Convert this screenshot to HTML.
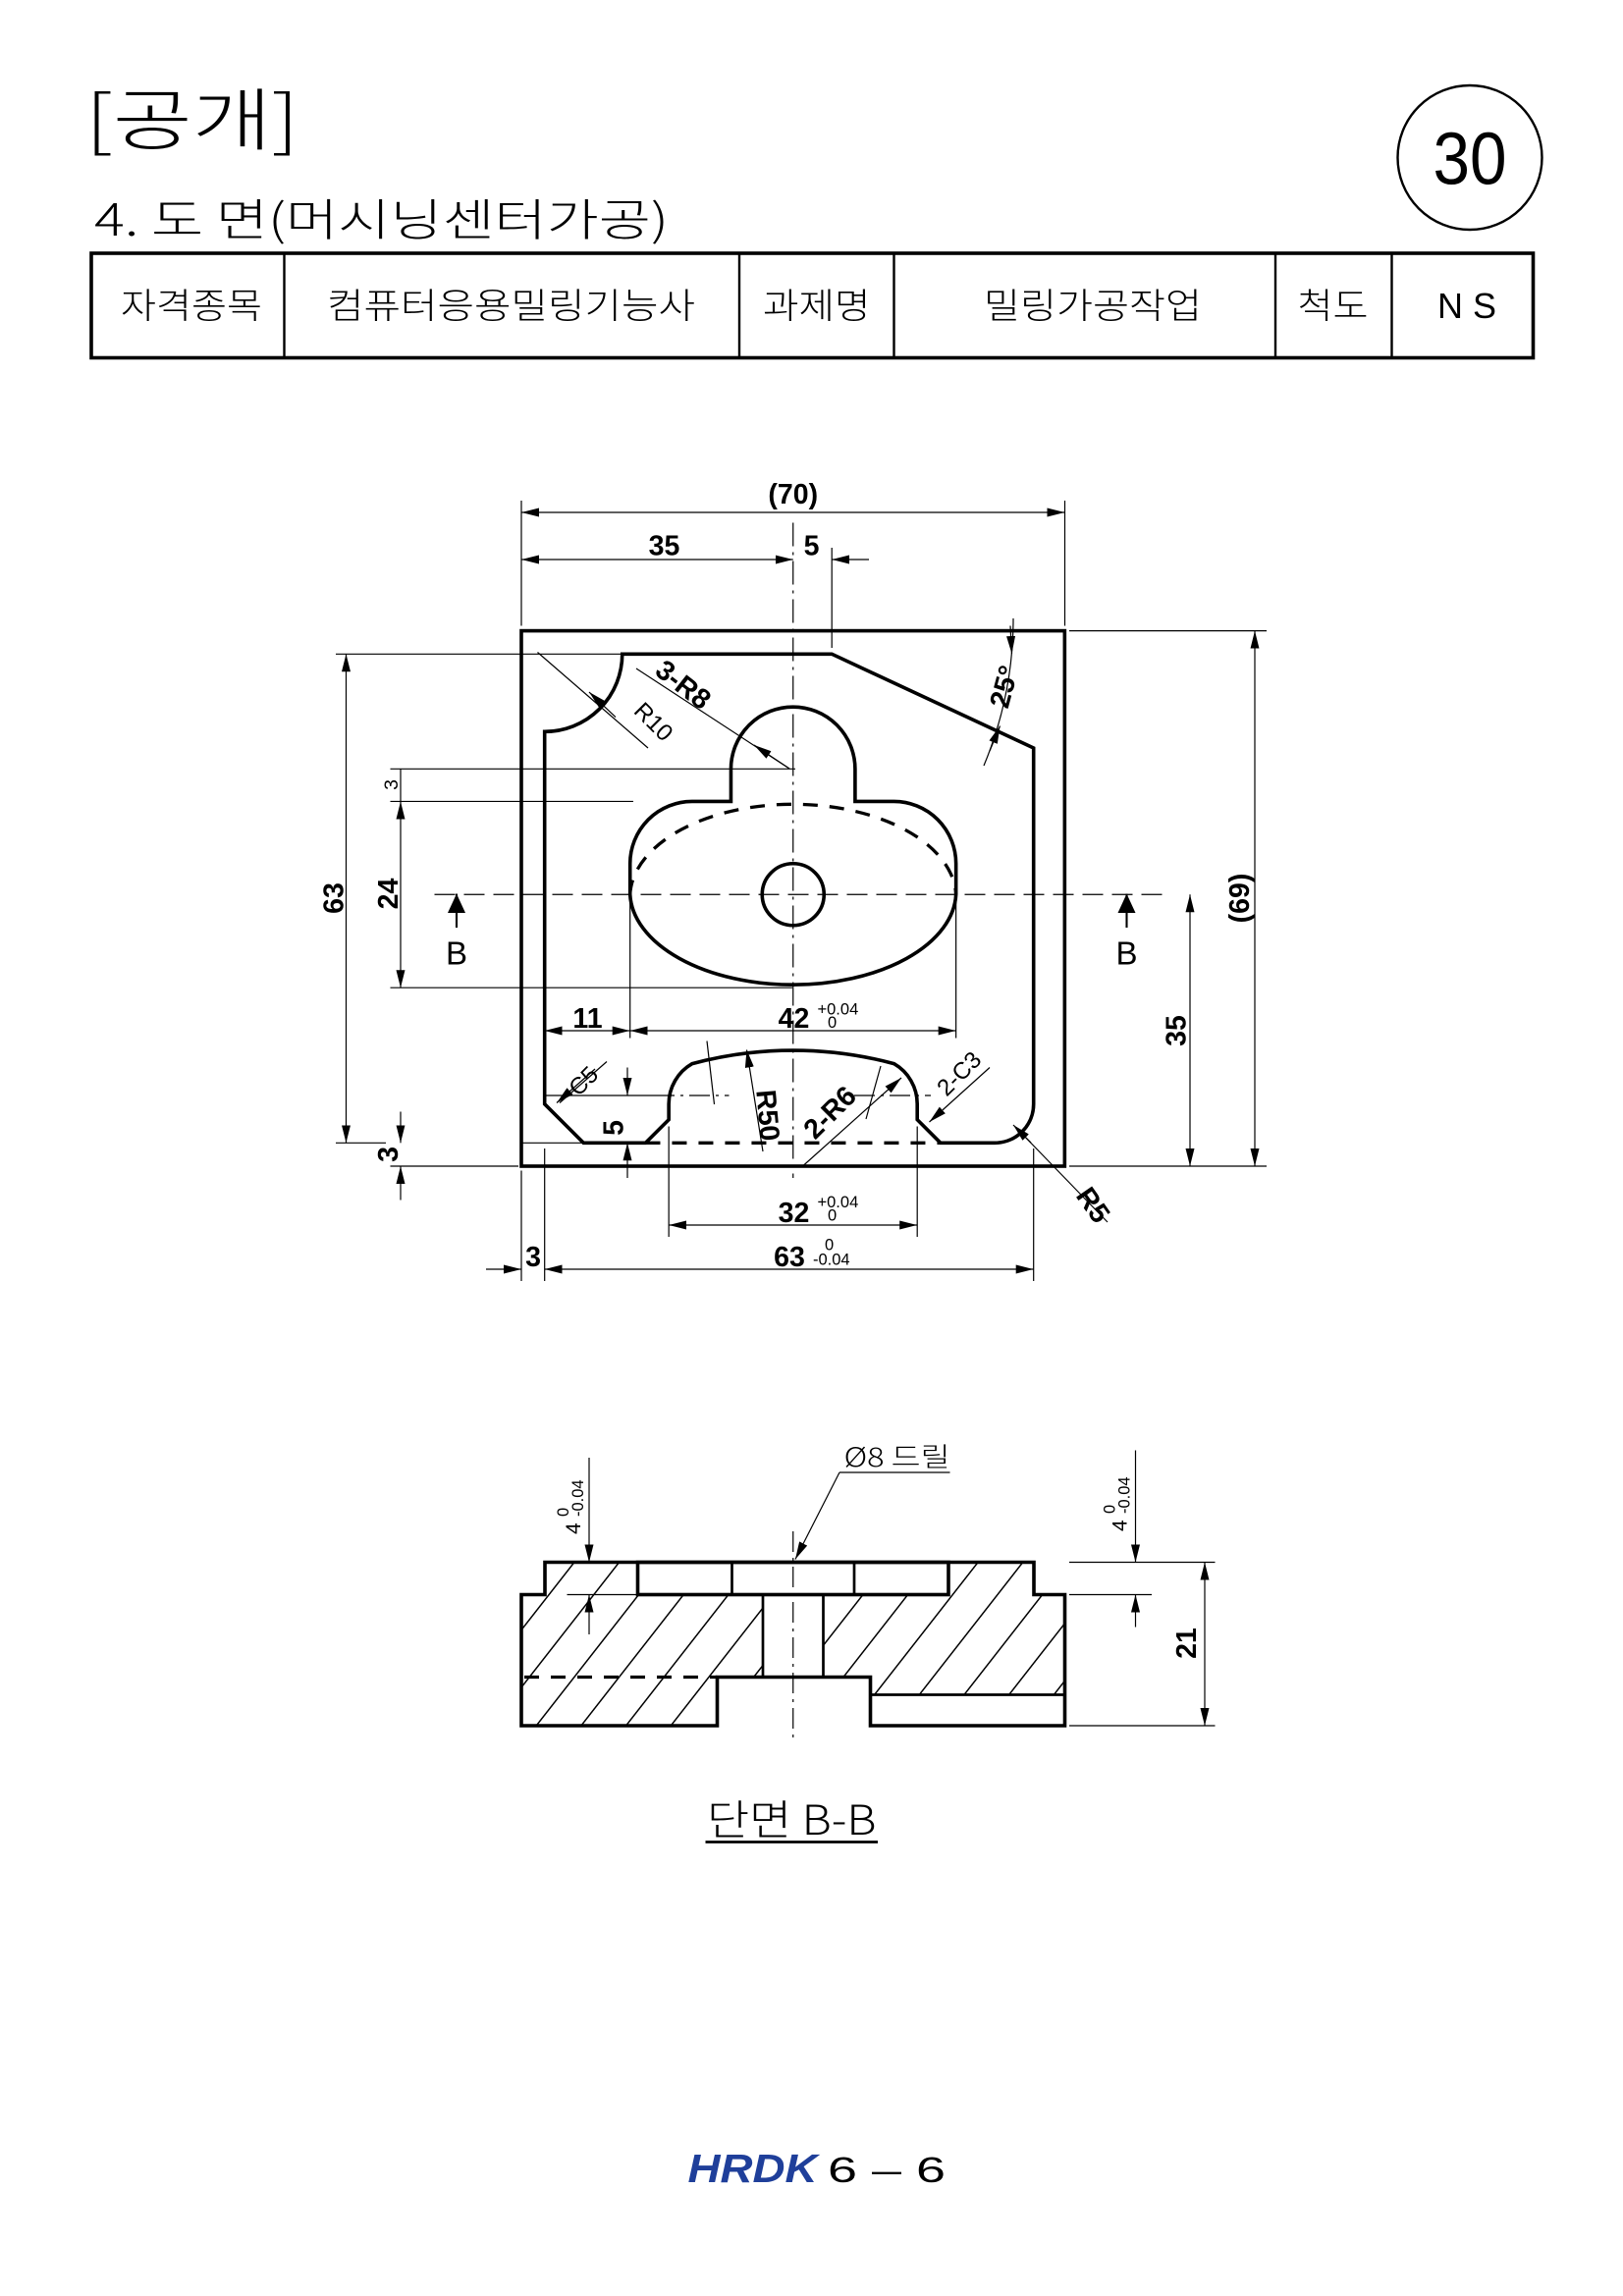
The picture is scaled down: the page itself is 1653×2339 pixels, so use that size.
<!DOCTYPE html>
<html><head><meta charset="utf-8"><style>
html,body{margin:0;padding:0;background:#fff}
svg{display:block}
text{font-family:"Liberation Sans","Noto Sans CJK KR",sans-serif;fill:#000}
.k{font-family:"Noto Sans CJK KR","NanumGothic",sans-serif;font-weight:300}
.th{stroke:#000;stroke-width:0.8;fill:none}
.tk{stroke:#000;stroke-width:2.4;fill:none;stroke-linejoin:miter}
.cl{stroke:#000;stroke-width:0.8;fill:none;stroke-dasharray:16 4 2 4}
.da{stroke:#000;stroke-width:2.2;fill:none;stroke-dasharray:10 8}
.d{font-size:19px;font-weight:bold}
.s{font-size:11px}
</style></head><body>
<svg width="1653" height="2339" viewBox="0 0 1102 1559.33" xmlns="http://www.w3.org/2000/svg">
<defs>
<marker id="a" markerUnits="userSpaceOnUse" markerWidth="12" markerHeight="6" viewBox="0 0 12 6" refX="12" refY="3" orient="auto-start-reverse"><path d="M0,0 L12,3 L0,6 Z" fill="#000"/></marker>
<pattern id="h" patternUnits="userSpaceOnUse" width="24" height="24" patternTransform="rotate(38)"><line x1="0" y1="0" x2="0" y2="24" stroke="#000" stroke-width="2"/></pattern>
</defs>

<!-- Header -->
<text x="58" y="98" class="k" style="font-size:46px" textLength="145" lengthAdjust="spacingAndGlyphs">[공개]</text>
<text x="64" y="160" class="k" style="font-size:30px" textLength="390" lengthAdjust="spacingAndGlyphs">4. 도 면(머시닝센터가공)</text>
<circle cx="998" cy="107" r="49" class="th" style="stroke-width:1.6"/>
<text x="998" y="125" text-anchor="middle" style="font-size:50px" textLength="50" lengthAdjust="spacingAndGlyphs">30</text>
<rect x="62" y="172" width="979" height="71" class="th" style="stroke-width:2.4"/>
<g class="th" style="stroke-width:1.6">
<line x1="193" y1="172" x2="193" y2="243"/><line x1="502" y1="172" x2="502" y2="243"/>
<line x1="607" y1="172" x2="607" y2="243"/><line x1="866" y1="172" x2="866" y2="243"/>
<line x1="945" y1="172" x2="945" y2="243"/></g>
<g class="k" style="font-size:24px">
<text x="82" y="216" textLength="96" lengthAdjust="spacingAndGlyphs">자격종목</text>
<text x="222" y="216" textLength="250" lengthAdjust="spacingAndGlyphs">컴퓨터응용밀링기능사</text>
<text x="518" y="216" textLength="73" lengthAdjust="spacingAndGlyphs">과제명</text>
<text x="668" y="216" textLength="148" lengthAdjust="spacingAndGlyphs">밀링가공작업</text>
<text x="881" y="216" textLength="48" lengthAdjust="spacingAndGlyphs">척도</text>
<text x="976" y="216" textLength="40" lengthAdjust="spacingAndGlyphs">N S</text>
</g>

<!-- Top view -->
<rect x="354" y="428.4" width="368.9" height="363.6" class="tk"/>
<path class="tk" d="M638.6,776.2 L622.8,760.4 L622.8,749.8 A31.6,31.6 0 0 0 607,722.4 A263.5,263.5 0 0 0 470,722.4 A31.6,31.6 0 0 0 454.1,749.8 L454.1,760.4 L438.3,776.2 L396.2,776.2 L369.8,749.8 L369.8,496.9 A52.7,52.7 0 0 0 422.5,444.2 L564.8,444.2 L701.8,508 L701.8,749.8 A26.35,26.35 0 0 1 675.5,776.2 Z"/>
<line x1="438.3" y1="776.2" x2="638.6" y2="776.2" class="da"/>
<path class="tk" d="M427.8,607.5 L427.8,586.5 A42.2,42.2 0 0 1 469.9,544.3 L496.3,544.3 L496.3,522.2 A42.15,42.15 0 0 1 580.6,522.2 L580.6,544.3 L607,544.3 A42.2,42.2 0 0 1 649.1,586.5 L649.1,607.5 A110.7,63.2 0 0 1 427.8,607.5"/>
<path class="da" d="M427.8,607.5 A110.7,63.2 0 0 1 649.1,607.5"/>
<circle cx="538.5" cy="607.5" r="21" class="tk"/>
<line x1="538.5" y1="355" x2="538.5" y2="800" class="cl"/>
<line x1="295" y1="607.5" x2="790" y2="607.5" class="th" style="stroke-dasharray:14 6"/>
<g class="th">
<line x1="444" y1="744" x2="495" y2="744" style="stroke-dasharray:14 4 2 4"/>
<line x1="580" y1="744" x2="632" y2="744" style="stroke-dasharray:14 4 2 4"/>
</g>

<!-- B markers -->
<line x1="310" y1="607" x2="310" y2="630" class="th" style="stroke-width:1.4"/>
<path d="M304,620 L310,607 L316,620 Z" fill="#000"/>
<text x="310" y="655" text-anchor="middle" style="font-size:22px">B</text>
<line x1="765" y1="607" x2="765" y2="630" class="th" style="stroke-width:1.4"/>
<path d="M759,620 L765,607 L771,620 Z" fill="#000"/>
<text x="765" y="655" text-anchor="middle" style="font-size:22px">B</text>

<!-- dimensions -->
<g class="th">
<line x1="354" y1="340" x2="354" y2="425"/><line x1="723" y1="340" x2="723" y2="425"/>
<line x1="354" y1="348" x2="723" y2="348" marker-start="url(#a)" marker-end="url(#a)"/>
<line x1="354" y1="380" x2="538.5" y2="380" marker-start="url(#a)" marker-end="url(#a)"/>
<line x1="590" y1="380" x2="564.8" y2="380" marker-end="url(#a)"/>
<line x1="564.8" y1="372" x2="564.8" y2="440"/>
<line x1="228" y1="444.2" x2="430" y2="444.2"/>
<line x1="228" y1="776.2" x2="262" y2="776.2"/>
<line x1="235" y1="444.2" x2="235" y2="776.2" marker-start="url(#a)" marker-end="url(#a)"/>
<line x1="265" y1="522.2" x2="540" y2="522.2"/>
<line x1="265" y1="544.3" x2="430" y2="544.3"/>
<line x1="265" y1="670.8" x2="538" y2="670.8"/>
<line x1="272" y1="544.3" x2="272" y2="670.8" marker-start="url(#a)" marker-end="url(#a)"/>
<line x1="272" y1="522.2" x2="272" y2="544.3"/>
<line x1="265" y1="792" x2="352" y2="792"/>
<line x1="272" y1="755" x2="272" y2="776.2" marker-end="url(#a)"/>
<line x1="272" y1="815" x2="272" y2="792" marker-end="url(#a)"/>
<line x1="726" y1="428.4" x2="860" y2="428.4"/>
<line x1="726" y1="792" x2="860" y2="792"/>
<line x1="852" y1="428.4" x2="852" y2="792" marker-start="url(#a)" marker-end="url(#a)"/>
<line x1="808" y1="607.5" x2="808" y2="792" marker-start="url(#a)" marker-end="url(#a)"/>
<line x1="427.8" y1="610" x2="427.8" y2="705"/>
<line x1="649.1" y1="610" x2="649.1" y2="705"/>
<line x1="369.8" y1="700" x2="427.8" y2="700" marker-start="url(#a)" marker-end="url(#a)"/>
<line x1="427.8" y1="700" x2="649.1" y2="700" marker-start="url(#a)" marker-end="url(#a)"/>
<line x1="370" y1="744" x2="444" y2="744"/>
<line x1="355" y1="776.2" x2="438" y2="776.2"/>
<line x1="426" y1="725" x2="426" y2="744" marker-end="url(#a)"/>
<line x1="426" y1="800" x2="426" y2="776.2" marker-end="url(#a)"/>
<line x1="454.1" y1="765" x2="454.1" y2="840"/>
<line x1="622.8" y1="765" x2="622.8" y2="840"/>
<line x1="454.1" y1="832" x2="622.8" y2="832" marker-start="url(#a)" marker-end="url(#a)"/>
<line x1="354" y1="795" x2="354" y2="870"/>
<line x1="369.8" y1="780" x2="369.8" y2="870"/>
<line x1="701.8" y1="780" x2="701.8" y2="870"/>
<line x1="369.8" y1="862" x2="701.8" y2="862" marker-start="url(#a)" marker-end="url(#a)"/>
<line x1="330" y1="862" x2="354" y2="862" marker-end="url(#a)"/>
<path d="M688,420 A260,260 0 0 1 668,520"/>
<line x1="686" y1="425" x2="687" y2="444" marker-end="url(#a)"/>
<line x1="672" y1="510" x2="679" y2="493" marker-end="url(#a)"/>
<line x1="365" y1="443" x2="440" y2="508"/>
<line x1="400" y1="470" x2="418" y2="487" marker-start="url(#a)"/>
<line x1="432" y1="454" x2="536" y2="522"/>
<line x1="536" y1="522" x2="512" y2="506" marker-end="url(#a)"/>
<line x1="404" y1="726" x2="378" y2="749" marker-end="url(#a)"/>
<line x1="380" y1="749" x2="412" y2="721"/>
<line x1="518" y1="782" x2="507" y2="713" marker-end="url(#a)"/>
<line x1="545" y1="792" x2="612" y2="732" marker-end="url(#a)"/>
<line x1="598" y1="724" x2="588" y2="760"/>
<line x1="480" y1="707" x2="485" y2="750"/>
<line x1="672" y1="725" x2="631" y2="762" marker-end="url(#a)"/>
<line x1="752" y1="830" x2="692" y2="768"/>
<line x1="700" y1="776" x2="688" y2="764" marker-end="url(#a)"/>
</g>
<g class="d">
<text x="538.5" y="342" text-anchor="middle">(70)</text>
<text x="451" y="377" text-anchor="middle">35</text>
<text x="551" y="377" text-anchor="middle">5</text>
<text x="399" y="698" text-anchor="middle">11</text>
<text x="539" y="698" text-anchor="middle">42</text>
<text x="539" y="830" text-anchor="middle">32</text>
<text x="536" y="860" text-anchor="middle">63</text>
<text x="362" y="860" text-anchor="middle">3</text>
<text transform="translate(233,610) rotate(-90)" text-anchor="middle">63</text>
<text transform="translate(270,607) rotate(-90)" text-anchor="middle">24</text>
<text transform="translate(270,784) rotate(-90)" text-anchor="middle">3</text>
<text transform="translate(270,533) rotate(-90)" text-anchor="middle" style="font-size:13px;font-weight:normal">3</text>
<text transform="translate(805,700) rotate(-90)" text-anchor="middle">35</text>
<text transform="translate(848,610) rotate(-90)" text-anchor="middle">(69)</text>
<text transform="translate(423,766) rotate(-90)" text-anchor="middle">5</text>
<text transform="translate(688,468) rotate(-75)" text-anchor="middle">25°</text>
<text transform="translate(460,470) rotate(38)" text-anchor="middle">3-R8</text>
<text transform="translate(440,494) rotate(45)" text-anchor="middle" style="font-size:16px;font-weight:normal">R10</text>
<text transform="translate(400,738) rotate(-45)" text-anchor="middle" style="font-size:16px;font-weight:normal">C5</text>
<text transform="translate(515,758) rotate(85)" text-anchor="middle">R50</text>
<text transform="translate(568,760) rotate(-45)" text-anchor="middle">2-R6</text>
<text transform="translate(655,733) rotate(-45)" text-anchor="middle" style="font-size:16px;font-weight:normal">2-C3</text>
<text transform="translate(737,822) rotate(55)" text-anchor="middle">R5</text>
</g>
<g class="s">
<text x="555" y="689">+0.04</text><text x="562" y="698">0</text>
<text x="555" y="820">+0.04</text><text x="562" y="829">0</text>
<text x="560" y="849">0</text><text x="552" y="859">-0.04</text>
</g>

<!-- Section B-B -->
<path fill="url(#h)" d="M370,1061 L433,1061 L433,1083 L518,1083 L518,1139 L487,1139 L487,1172 L354,1172 L354,1083 L370,1083 Z"/>
<path fill="url(#h)" d="M644,1061 L702,1061 L702,1083 L723,1083 L723,1151 L591,1151 L591,1139 L559,1139 L559,1083 L644,1083 Z"/>
<path class="tk" d="M370,1061 L702,1061 L702,1083 L723,1083 L723,1172 L591,1172 L591,1139 L487,1139 L487,1172 L354,1172 L354,1083 L370,1083 Z"/>
<rect x="433" y="1061" width="211" height="22" class="tk" fill="#fff"/>
<g class="tk" style="stroke-width:1.8">
<line x1="497" y1="1061" x2="497" y2="1083"/><line x1="580" y1="1061" x2="580" y2="1083"/>
<line x1="518" y1="1083" x2="518" y2="1139"/><line x1="559" y1="1083" x2="559" y2="1139"/>
<line x1="591" y1="1151" x2="723" y2="1151"/>
</g>
<line x1="356" y1="1139" x2="487" y2="1139" class="da"/>
<line x1="538.5" y1="1040" x2="538.5" y2="1180" class="th" style="stroke-dasharray:14 4 2 4"/>
<g class="th">
<line x1="400" y1="990" x2="400" y2="1061" marker-end="url(#a)"/>
<line x1="400" y1="1110" x2="400" y2="1083" marker-end="url(#a)"/>
<line x1="385" y1="1083" x2="433" y2="1083"/>
<line x1="771" y1="985" x2="771" y2="1061" marker-end="url(#a)"/>
<line x1="771" y1="1105" x2="771" y2="1083" marker-end="url(#a)"/>
<line x1="726" y1="1061" x2="825" y2="1061"/>
<line x1="726" y1="1083" x2="782" y2="1083"/>
<line x1="726" y1="1172" x2="825" y2="1172"/>
<line x1="818" y1="1061" x2="818" y2="1172" marker-start="url(#a)" marker-end="url(#a)"/>
<polyline points="645,1000 570,1000"/>
<line x1="570" y1="1000" x2="540" y2="1059" marker-end="url(#a)"/>
</g>
<text transform="translate(812,1116) rotate(-90)" text-anchor="middle" class="d">21</text>
<g style="font-size:14px">
<text transform="translate(394,1042) rotate(-90)">4</text>
<text transform="translate(386,1030) rotate(-90)" style="font-size:11px">0</text>
<text transform="translate(396,1030) rotate(-90)" style="font-size:11px">-0.04</text>
<text transform="translate(765,1040) rotate(-90)">4</text>
<text transform="translate(757,1028) rotate(-90)" style="font-size:11px">0</text>
<text transform="translate(767,1028) rotate(-90)" style="font-size:11px">-0.04</text>
</g>
<text x="573" y="996" style="font-size:18px" class="k" textLength="72" lengthAdjust="spacingAndGlyphs">Ø8 드릴</text>
<text x="480" y="1246" class="k" style="font-size:28px" textLength="115" lengthAdjust="spacingAndGlyphs">단면 B-B</text>
<line x1="479" y1="1251" x2="596" y2="1251" stroke="#000" stroke-width="1.8"/>

<!-- Footer -->
<text x="467" y="1482" style="font-size:27px;font-weight:bold;font-style:italic;fill:#1f3f9a" textLength="88" lengthAdjust="spacingAndGlyphs">HRDK</text>
<text x="562" y="1482" style="font-size:24px" textLength="80" lengthAdjust="spacingAndGlyphs">6 – 6</text>
</svg>
</body></html>
